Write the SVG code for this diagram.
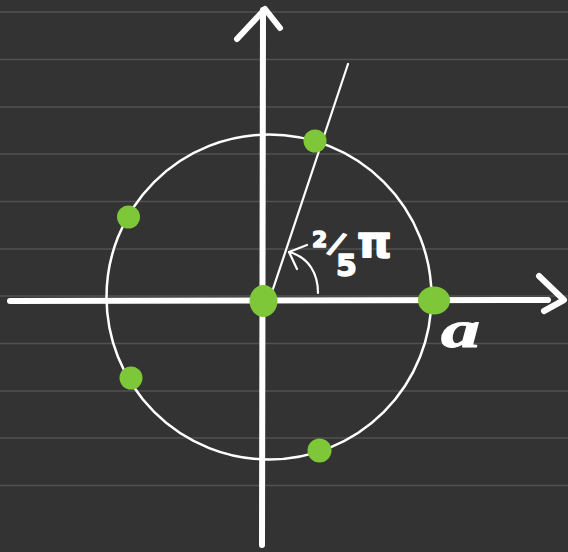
<svg xmlns="http://www.w3.org/2000/svg" width="568" height="552" viewBox="0 0 568 552">
<style>
.rule{stroke:#525252;stroke-width:1.6}
.axis{stroke:#ffffff;stroke-width:6;stroke-linecap:round;stroke-linejoin:round;fill:none}
.thin{stroke:#ffffff;stroke-width:2.2;stroke-linecap:round;stroke-linejoin:round;fill:none}
.dot{fill:#7dc738}
.hand{fill:#ffffff;stroke:#ffffff;stroke-width:1.5;stroke-linejoin:round;font-family:"DejaVu Sans","Liberation Sans",sans-serif;font-weight:bold}
</style>
<rect x="0" y="0" width="568" height="552" fill="#333333"/>
<g id="ruled-lines">
<line class="rule" x1="0" y1="12" x2="568" y2="12"/>
<line class="rule" x1="0" y1="59.5" x2="568" y2="59.5"/>
<line class="rule" x1="0" y1="107" x2="568" y2="107"/>
<line class="rule" x1="0" y1="154" x2="568" y2="154"/>
<line class="rule" x1="0" y1="201.5" x2="568" y2="201.5"/>
<line class="rule" x1="0" y1="249" x2="568" y2="249"/>
<line class="rule" x1="0" y1="296" x2="568" y2="296"/>
<line class="rule" x1="0" y1="343.5" x2="568" y2="343.5"/>
<line class="rule" x1="0" y1="391" x2="568" y2="391"/>
<line class="rule" x1="0" y1="438" x2="568" y2="438"/>
<line class="rule" x1="0" y1="485.5" x2="568" y2="485.5"/>
</g>
<g id="circle">
<circle cx="269" cy="297" r="162.5" fill="none" stroke="#ffffff" stroke-width="2.5"/>
</g>
<g id="axes">
<path class="axis" d="M10,301 L548,300"/>
<path class="axis" d="M539,276 L564,300 L544,311"/>
<path class="axis" d="M262,545 L263,10"/>
<path class="axis" d="M237,39 L265,9 L280,28"/>
</g>
<g id="angle">
<path class="thin" d="M269,301 L348,64"/>
<path class="thin" d="M318,293 C318,274 309,257 289,252"/>
<path class="thin" d="M307,245 L289,252 L297,269"/>
</g>
<g id="points">
<ellipse class="dot" cx="263.5" cy="301" rx="14" ry="16"/>
<ellipse class="dot" cx="434" cy="300.5" rx="16" ry="14"/>
<circle class="dot" cx="315" cy="141" r="11.5"/>
<circle class="dot" cx="128.5" cy="217" r="11.5"/>
<circle class="dot" cx="131" cy="378" r="11.5"/>
<circle class="dot" cx="319.5" cy="450.5" r="12"/>
</g>
<g id="labels">
<text class="hand" x="312" y="247" font-size="22">2</text>
<text class="hand" font-size="30" text-anchor="middle" transform="translate(333,253) rotate(22)">/</text>
<text class="hand" x="336" y="276" font-size="30">5</text>
<text class="hand" x="357" y="257" font-size="44">π</text>
<text font-size="52" font-style="italic" font-weight="bold" fill="#ffffff" stroke="#ffffff" stroke-width="1" font-family="'Liberation Serif',serif" transform="translate(441,347) scale(1.5,1)">a</text>
</g>
</svg>
